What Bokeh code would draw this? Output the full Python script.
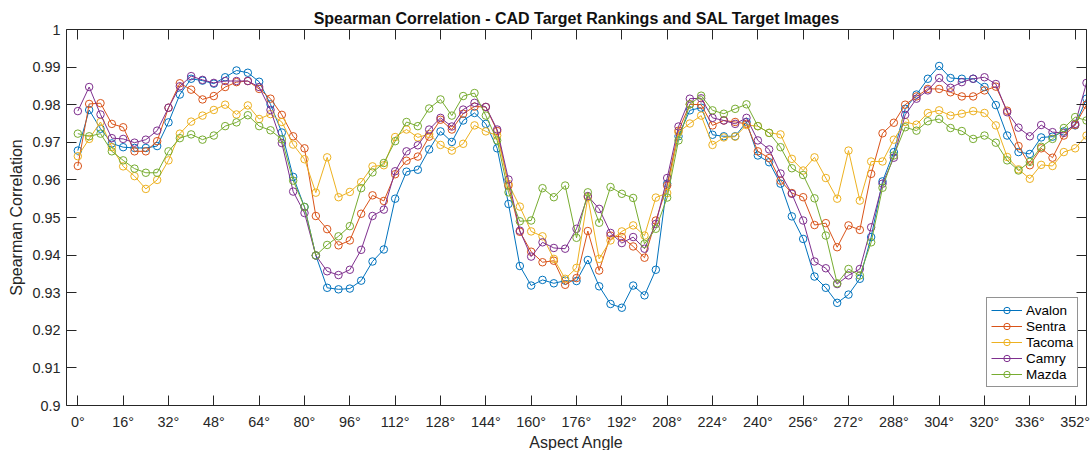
from bokeh.plotting import figure
from bokeh.models import Range1d, LinearAxis, FixedTicker, Legend, LegendItem, ColumnDataSource
from bokeh.embed import file_html
from bokeh.resources import INLINE

angles = list(range(0, 360, 4))

avalon = [0.9678, 0.9786, 0.9736, 0.9697, 0.9687, 0.9685, 0.9685, 0.9690, 0.9753, 0.9827,
          0.9869, 0.9864, 0.9856, 0.9873, 0.9891, 0.9885, 0.9861, 0.9801, 0.9726, 0.9608,
          0.9528, 0.9399, 0.9313, 0.9309, 0.9311, 0.9332, 0.9383, 0.9415, 0.9550, 0.9622,
          0.9627, 0.9681, 0.9729, 0.9701, 0.9758, 0.9778, 0.9749, 0.9684, 0.9536, 0.9371,
          0.9319, 0.9334, 0.9325, 0.9332, 0.9331, 0.9387, 0.9317, 0.9270, 0.9260, 0.9319,
          0.9293, 0.9361, 0.9590, 0.9716, 0.9785, 0.9792, 0.9720, 0.9716, 0.9716, 0.9754,
          0.9665, 0.9647, 0.9590, 0.9503, 0.9443, 0.9343, 0.9313, 0.9273, 0.9295, 0.9337,
          0.9448, 0.9596, 0.9674, 0.9789, 0.9827, 0.9869, 0.9903, 0.9871, 0.9869, 0.9869,
          0.9847, 0.9799, 0.9718, 0.9674, 0.9669, 0.9713, 0.9715, 0.9729, 0.9745, 0.9816]

sentra = [0.9637, 0.9802, 0.9804, 0.9749, 0.9740, 0.9676, 0.9676, 0.9703, 0.9792, 0.9857,
          0.9840, 0.9814, 0.9823, 0.9847, 0.9860, 0.9863, 0.9842, 0.9816, 0.9773, 0.9716,
          0.9684, 0.9504, 0.9469, 0.9426, 0.9439, 0.9510, 0.9559, 0.9544, 0.9615, 0.9651,
          0.9662, 0.9715, 0.9760, 0.9734, 0.9776, 0.9795, 0.9794, 0.9730, 0.9585, 0.9462,
          0.9409, 0.9381, 0.9385, 0.9321, 0.9339, 0.9464, 0.9359, 0.9452, 0.9448, 0.9423,
          0.9393, 0.9492, 0.9585, 0.9731, 0.9801, 0.9800, 0.9745, 0.9758, 0.9754, 0.9749,
          0.9676, 0.9658, 0.9598, 0.9565, 0.9554, 0.9480, 0.9485, 0.9421, 0.9479, 0.9467,
          0.9616, 0.9724, 0.9752, 0.9800, 0.9822, 0.9842, 0.9842, 0.9833, 0.9822, 0.9822,
          0.9838, 0.9848, 0.9784, 0.9690, 0.9639, 0.9684, 0.9659, 0.9718, 0.9746, 0.9800]

tacoma = [0.9663, 0.9709, 0.9754, 0.9687, 0.9636, 0.9610, 0.9576, 0.9600, 0.9652, 0.9723,
          0.9755, 0.9771, 0.9786, 0.9800, 0.9774, 0.9798, 0.9762, 0.9775, 0.9754, 0.9694,
          0.9655, 0.9566, 0.9660, 0.9554, 0.9568, 0.9594, 0.9636, 0.9639, 0.9714, 0.9734,
          0.9713, 0.9722, 0.9693, 0.9678, 0.9696, 0.9745, 0.9729, 0.9718, 0.9589, 0.9529,
          0.9463, 0.9450, 0.9390, 0.9337, 0.9366, 0.9554, 0.9390, 0.9439, 0.9463, 0.9479,
          0.9452, 0.9553, 0.9565, 0.9727, 0.9750, 0.9771, 0.9693, 0.9713, 0.9715, 0.9746,
          0.9743, 0.9725, 0.9721, 0.9656, 0.9625, 0.9660, 0.9605, 0.9550, 0.9678, 0.9545,
          0.9649, 0.9649, 0.9707, 0.9754, 0.9747, 0.9778, 0.9785, 0.9771, 0.9776, 0.9783,
          0.9778, 0.9745, 0.9661, 0.9628, 0.9603, 0.9640, 0.9637, 0.9674, 0.9684, 0.9718]

camry = [0.9783, 0.9847, 0.9774, 0.9711, 0.9709, 0.9699, 0.9707, 0.9731, 0.9792, 0.9849,
         0.9876, 0.9866, 0.9858, 0.9863, 0.9863, 0.9863, 0.9847, 0.9786, 0.9698, 0.9569,
         0.9512, 0.9399, 0.9357, 0.9347, 0.9361, 0.9414, 0.9504, 0.9521, 0.9623, 0.9676,
         0.9692, 0.9734, 0.9765, 0.9742, 0.9787, 0.9805, 0.9794, 0.9734, 0.9601, 0.9465,
         0.9396, 0.9434, 0.9419, 0.9417, 0.9470, 0.9557, 0.9523, 0.9459, 0.9432, 0.9448,
         0.9417, 0.9483, 0.9605, 0.9742, 0.9816, 0.9817, 0.9765, 0.9758, 0.9749, 0.9765,
         0.9705, 0.9681, 0.9617, 0.9563, 0.9492, 0.9383, 0.9365, 0.9323, 0.9346, 0.9363,
         0.9474, 0.9590, 0.9659, 0.9773, 0.9816, 0.9838, 0.9871, 0.9845, 0.9860, 0.9869,
         0.9873, 0.9855, 0.9780, 0.9739, 0.9716, 0.9746, 0.9727, 0.9725, 0.9749, 0.9858]

mazda = [0.9723, 0.9716, 0.9723, 0.9676, 0.9652, 0.9630, 0.9619, 0.9619, 0.9676, 0.9711,
         0.9721, 0.9707, 0.9718, 0.9743, 0.9753, 0.9772, 0.9743, 0.9732, 0.9708, 0.9598,
         0.9528, 0.9399, 0.9427, 0.9450, 0.9477, 0.9578, 0.9620, 0.9645, 0.9703, 0.9754,
         0.9743, 0.9790, 0.9814, 0.9771, 0.9823, 0.9831, 0.9771, 0.9705, 0.9567, 0.9490,
         0.9492, 0.9578, 0.9554, 0.9585, 0.9446, 0.9567, 0.9486, 0.9581, 0.9563, 0.9552,
         0.9430, 0.9470, 0.9553, 0.9705, 0.9801, 0.9824, 0.9785, 0.9776, 0.9789, 0.9801,
         0.9743, 0.9725, 0.9687, 0.9631, 0.9613, 0.9551, 0.9452, 0.9325, 0.9363, 0.9346,
         0.9434, 0.9579, 0.9665, 0.9740, 0.9731, 0.9756, 0.9762, 0.9738, 0.9730, 0.9709,
         0.9718, 0.9699, 0.9652, 0.9625, 0.9648, 0.9688, 0.9709, 0.9738, 0.9767, 0.9758]

series_names = ["Avalon", "Sentra", "Tacoma", "Camry", "Mazda"]
series_values = [avalon, sentra, tacoma, camry, mazda]
series_colors = ["#0072BD", "#D95319", "#EDB120", "#7E2F8E", "#77AC30"]

x_ticks = [0, 16, 32, 48, 64, 80, 96, 112, 128, 144, 160, 176, 192, 208, 224, 240,
           256, 272, 288, 304, 320, 336, 352]
x_tick_labels = [f"{t}°" for t in x_ticks]
y_ticks = [0.9, 0.91, 0.92, 0.93, 0.94, 0.95, 0.96, 0.97, 0.98, 0.99, 1.0]
y_tick_labels = ["0.9", "0.91", "0.92", "0.93", "0.94", "0.95", "0.96", "0.97", "0.98", "0.99", "1"]

title_text = "Spearman Correlation - CAD Target Rankings and SAL Target Images"
x_label = "Aspect Angle"
y_label = "Spearman Correlation"

FONT = "Liberation Sans"
AX_COLOR = "#262626"

p = figure(frame_width=1020, frame_height=376,
           x_range=Range1d(-4, 356), y_range=Range1d(0.9, 1.0),
           output_backend="svg", toolbar_location=None,
           min_border_left=66, min_border_right=4, min_border_top=29, min_border_bottom=44,
           background_fill_color="white", border_fill_color="white")
p.grid.visible = False
p.outline_line_color = None

p.title.text = title_text
p.title.align = "center"
p.title.text_font = FONT
p.title.text_font_size = "16px"
p.title.text_font_style = "bold"
p.title.text_color = "#111111"
p.title.standoff = 5


def style_axis(ax):
    ax.axis_line_color = AX_COLOR
    ax.axis_line_width = 1
    ax.major_tick_line_color = AX_COLOR
    ax.major_tick_line_width = 1
    ax.major_tick_in = 10
    ax.major_tick_out = 0
    ax.minor_tick_in = 0
    ax.minor_tick_out = 0
    ax.major_label_text_font = FONT
    ax.major_label_text_font_size = "14.4px"
    ax.major_label_text_color = AX_COLOR
    ax.axis_label_text_font = FONT
    ax.axis_label_text_font_size = "16px"
    ax.axis_label_text_font_style = "normal"
    ax.axis_label_text_color = AX_COLOR


xa = p.xaxis[0]
style_axis(xa)
xa.ticker = FixedTicker(ticks=x_ticks)
xa.major_label_overrides = {t: lab for t, lab in zip(x_ticks, x_tick_labels)}
xa.axis_label = x_label
xa.major_label_standoff = 8
xa.axis_label_standoff = 1

ya = p.yaxis[0]
style_axis(ya)
ya.ticker = FixedTicker(ticks=y_ticks)
ya.major_label_overrides = {t: lab for t, lab in zip(y_ticks, y_tick_labels)}
ya.axis_label = y_label
ya.major_label_standoff = 6
ya.axis_label_standoff = 4

top = LinearAxis(ticker=FixedTicker(ticks=x_ticks))
style_axis(top)
top.major_label_text_font_size = "0px"
top.major_label_overrides = {t: "" for t in x_ticks}
top.major_label_standoff = 0
p.add_layout(top, "above")

right = LinearAxis(ticker=FixedTicker(ticks=y_ticks))
style_axis(right)
right.major_label_text_font_size = "0px"
right.major_label_overrides = {t: "" for t in y_ticks}
right.major_label_standoff = 0
p.add_layout(right, "right")

items = []
for name, vals, color in zip(series_names, series_values, series_colors):
    src = ColumnDataSource(dict(x=angles, y=vals))
    ln = p.line("x", "y", source=src, line_color=color, line_width=1)
    sc = p.scatter("x", "y", source=src, marker="circle", size=7.5,
                   line_color=color, line_width=1, fill_color=None)
    items.append(LegendItem(label=name, renderers=[ln, sc]))

legend = Legend(items=items, location=(920, 18))
legend.label_text_font = FONT
legend.label_text_font_size = "13.5px"
legend.label_text_color = "#000000"
legend.glyph_width = 31
legend.glyph_height = 16
legend.label_height = 16
legend.label_standoff = 4
legend.padding = 4
legend.spacing = 0
legend.margin = 0
legend.border_line_color = AX_COLOR
legend.border_line_width = 1
legend.background_fill_color = "white"
legend.background_fill_alpha = 1
p.add_layout(legend, "center")

open("out.html", "w").write(file_html(p, INLINE))
